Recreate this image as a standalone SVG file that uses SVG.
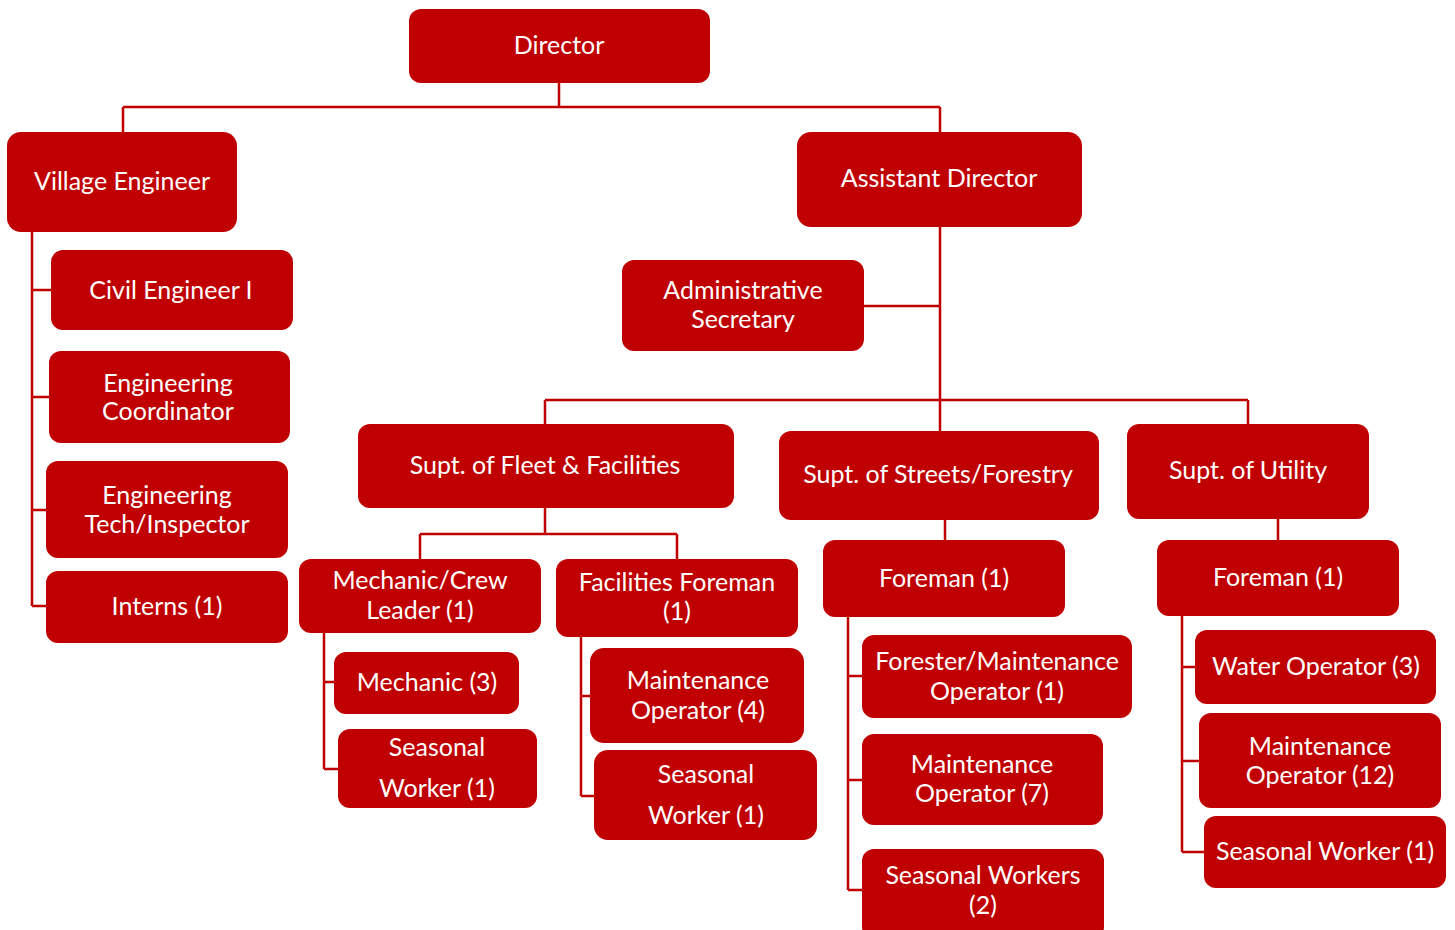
<svg xmlns="http://www.w3.org/2000/svg" width="1455" height="930" viewBox="0 0 1455 930">
<style>
.n rect{fill:#C00000;}
.n text{fill:#ffffff;font-family:Lato,"Open Sans","Liberation Sans",sans-serif;font-size:25px;text-anchor:middle;dominant-baseline:central;}
#connectors path{fill:none;stroke:#C00000;stroke-width:2.5;}
</style>
<rect width="1455" height="930" fill="#ffffff"/>
<g id="connectors">
<path d="M559 83V107M123 107H940M123 107V132M940 107V132"/>
<path d="M32 232V606M32 290H51M32 397H49M32 510H46M32 606H46"/>
<path d="M940 227V400M864 306H940M545 400H1248M545 400V424M940 400V431M1248 400V424"/>
<path d="M545 508V534M420 534H677M420 534V559M677 534V559"/>
<path d="M324 633V769M324 682H334M324 769H338"/>
<path d="M581 637V796M581 696H590M581 796H594"/>
<path d="M945 520V540M848 617V890M848 676H862M848 780H862M848 890H862"/>
<path d="M1278 519V540M1182 616V852M1182 667H1195M1182 761H1199M1182 852H1204"/>
</g>
<g id="director" class="n"><rect x="409" y="9" width="301" height="74" rx="12"/><text x="559" y="44">Director</text></g>
<g id="village-engineer" class="n"><rect x="7" y="132" width="230" height="100" rx="14"/><text x="122" y="180">Village Engineer</text></g>
<g id="assistant-director" class="n"><rect x="797" y="132" width="285" height="95" rx="14"/><text x="939" y="177">Assistant Director</text></g>
<g id="civil-engineer" class="n"><rect x="51" y="250" width="242" height="80" rx="12"/><text x="171" y="289">Civil Engineer I</text></g>
<g id="engineering-coordinator" class="n"><rect x="49" y="351" width="241" height="92" rx="12"/><text x="168" y="382">Engineering</text><text x="168" y="410">Coordinator</text></g>
<g id="engineering-tech" class="n"><rect x="46" y="461" width="242" height="97" rx="12"/><text x="167" y="494">Engineering</text><text x="167" y="523">Tech/Inspector</text></g>
<g id="interns" class="n"><rect x="46" y="571" width="242" height="72" rx="12"/><text x="167" y="605">Interns (1)</text></g>
<g id="admin-secretary" class="n"><rect x="622" y="260" width="242" height="91" rx="12"/><text x="743" y="289">Administrative</text><text x="743" y="318">Secretary</text></g>
<g id="supt-fleet" class="n"><rect x="358" y="424" width="376" height="84" rx="12"/><text x="545" y="464">Supt. of Fleet &amp; Facilities</text></g>
<g id="supt-streets" class="n"><rect x="779" y="431" width="320" height="89" rx="12"/><text x="938" y="473">Supt. of Streets/Forestry</text></g>
<g id="supt-utility" class="n"><rect x="1127" y="424" width="242" height="95" rx="12"/><text x="1248" y="469">Supt. of Utility</text></g>
<g id="mechanic-crew-leader" class="n"><rect x="299" y="559" width="242" height="74" rx="12"/><text x="420" y="579">Mechanic/Crew</text><text x="420" y="609">Leader (1)</text></g>
<g id="facilities-foreman" class="n"><rect x="556" y="559" width="242" height="78" rx="12"/><text x="677" y="581">Facilities Foreman</text><text x="677" y="610">(1)</text></g>
<g id="mechanic" class="n"><rect x="334" y="652" width="185" height="62" rx="12"/><text x="427" y="681">Mechanic (3)</text></g>
<g id="seasonal-worker-fleet" class="n"><rect x="338" y="729" width="199" height="79" rx="12"/><text x="437" y="746">Seasonal</text><text x="437" y="787">Worker (1)</text></g>
<g id="maintenance-operator-4" class="n"><rect x="590" y="648" width="214" height="95" rx="14"/><text x="698" y="679">Maintenance</text><text x="698" y="709">Operator (4)</text></g>
<g id="seasonal-worker-facilities" class="n"><rect x="594" y="750" width="223" height="90" rx="14"/><text x="706" y="773">Seasonal</text><text x="706" y="814">Worker (1)</text></g>
<g id="foreman-streets" class="n"><rect x="823" y="540" width="242" height="77" rx="12"/><text x="944" y="577">Foreman (1)</text></g>
<g id="forester" class="n"><rect x="862" y="635" width="270" height="83" rx="12"/><text x="997" y="660">Forester/Maintenance</text><text x="997" y="690">Operator (1)</text></g>
<g id="maintenance-operator-7" class="n"><rect x="862" y="734" width="241" height="91" rx="12"/><text x="982" y="763">Maintenance</text><text x="982" y="792">Operator (7)</text></g>
<g id="seasonal-workers-streets" class="n"><rect x="862" y="849" width="242" height="90" rx="12"/><text x="983" y="874">Seasonal Workers</text><text x="983" y="904">(2)</text></g>
<g id="foreman-utility" class="n"><rect x="1157" y="540" width="242" height="76" rx="12"/><text x="1278" y="576">Foreman (1)</text></g>
<g id="water-operator" class="n"><rect x="1195" y="630" width="241" height="74" rx="12"/><text x="1316" y="665">Water Operator (3)</text></g>
<g id="maintenance-operator-12" class="n"><rect x="1199" y="713" width="242" height="95" rx="12"/><text x="1320" y="745">Maintenance</text><text x="1320" y="774">Operator (12)</text></g>
<g id="seasonal-worker-utility" class="n"><rect x="1204" y="816" width="242" height="72" rx="12"/><text x="1325" y="850">Seasonal Worker (1)</text></g>
</svg>
